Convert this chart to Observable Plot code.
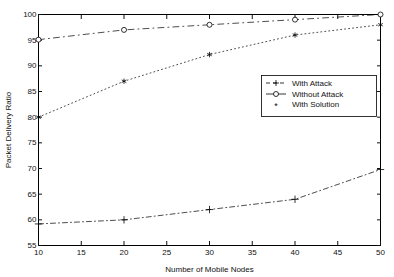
<!DOCTYPE html>
<html><head><meta charset="utf-8">
<script src="https://cdn.jsdelivr.net/npm/d3@7"></script>
<script src="https://cdn.jsdelivr.net/npm/@observablehq/plot@0.6"></script>
<style>
body{margin:0;background:#fff;}
svg{font-family:"Liberation Sans",Arial,sans-serif;}
</style>
</head><body>
<div id="chart"></div>
<script>
const nodes = [10, 20, 30, 40, 50];
const withAttack = [59.2, 60, 62, 64, 69.8];
const withoutAttack = [95.1, 97, 98, 99, 100];
const withSolution = [80, 87, 92.2, 96, 98];
const xTicks = [10, 15, 20, 25, 30, 35, 40, 45, 50];
const yTicks = [55, 60, 65, 70, 75, 80, 85, 90, 95, 100];
const seriesNames = ["With Attack", "Without Attack", "With Solution"];

const mk = (vals, name) => nodes.map((n, i) => ({x: n, y: vals[i], s: name}));
const dA = mk(withAttack, seriesNames[0]);
const dW = mk(withoutAttack, seriesNames[1]);
const dS = mk(withSolution, seriesNames[2]);

const chart = Plot.plot({
  width: 394, height: 277,
  marginLeft: 38, marginRight: 14, marginTop: 14, marginBottom: 32,
  style: {fontSize: "8px", fontFamily: "Liberation Sans, Arial, sans-serif", color: "#111"},
  x: {domain: [10, 50]},
  y: {domain: [55, 100]},
  marks: [
    Plot.frame({stroke: "#000", strokeWidth: 1}),
    Plot.axisX({ticks: xTicks, tickSize: -4, tickPadding: 8, label: "Number of Mobile Nodes", labelAnchor: "center", labelArrow: "none", labelOffset: 26}),
    Plot.axisX({anchor: "top", ticks: xTicks, tickSize: -4, tickFormat: () => "", label: null}),
    Plot.axisY({ticks: yTicks, tickSize: -4, tickPadding: 6, label: "Packet Delivery Ratio", labelAnchor: "center", labelArrow: "none", labelOffset: 33}),
    Plot.axisY({anchor: "right", ticks: yTicks, tickSize: -4, tickFormat: () => "", label: null}),
    Plot.line(dA, {x: "x", y: "y", stroke: "#000", strokeWidth: 0.7, strokeDasharray: "5,3,1,3"}),
    Plot.line(dW, {x: "x", y: "y", stroke: "#000", strokeWidth: 0.7, strokeDasharray: "6,4,1,4"}),
    Plot.line(dS, {x: "x", y: "y", stroke: "#000", strokeWidth: 0.7, strokeDasharray: "1,3"}),
    Plot.dot(dA, {x: "x", y: "y", symbol: "plus", r: 2.5, stroke: "#000", strokeWidth: 0.8}),
    Plot.dot(dW, {x: "x", y: "y", symbol: "circle", r: 2.5, stroke: "#000", fill: "#fff", strokeWidth: 0.8}),
    Plot.dot(dS, {x: "x", y: "y", symbol: "asterisk", r: 2.5, stroke: "#000", strokeWidth: 0.8})
  ]
});
document.getElementById("chart").appendChild(chart);

// legend (layout only)
const svg = d3.select(chart);
const lg = svg.append("g").attr("font-size", 8).attr("fill", "#111").attr("text-anchor", "start");
lg.append("rect").attr("x", 261.5).attr("y", 75.5).attr("width", 115).attr("height", 41)
  .attr("fill", "#fff").attr("stroke", "#000").attr("stroke-width", 0.8);
const rows = [83, 94, 104];
const sx0 = 266, sx1 = 286, tx = 292;
const mid = (sx0 + sx1) / 2;
// With Attack: dashed + plus
lg.append("line").attr("x1", sx0).attr("x2", sx1).attr("y1", rows[0]).attr("y2", rows[0])
  .attr("stroke", "#000").attr("stroke-width", 0.8).attr("stroke-dasharray", "4,3");
lg.append("path").attr("d", `M${mid-3},${rows[0]}h6M${mid},${rows[0]-3}v6`).attr("stroke", "#000").attr("stroke-width", 0.8);
// Without Attack: solid + circle
lg.append("line").attr("x1", sx0).attr("x2", sx1).attr("y1", rows[1]).attr("y2", rows[1])
  .attr("stroke", "#000").attr("stroke-width", 0.8);
lg.append("circle").attr("cx", mid).attr("cy", rows[1]).attr("r", 2.5).attr("fill", "#fff").attr("stroke", "#000").attr("stroke-width", 0.8);
// With Solution: asterisk only
lg.append("text").attr("x", mid).attr("y", rows[2]).attr("dy", "0.6em").attr("text-anchor", "middle").attr("font-size", 9).text("*");
seriesNames.forEach((n, i) => {
  lg.append("text").attr("x", tx).attr("y", rows[i]).attr("dy", "0.35em").text(n);
});
</script>
</body></html>
